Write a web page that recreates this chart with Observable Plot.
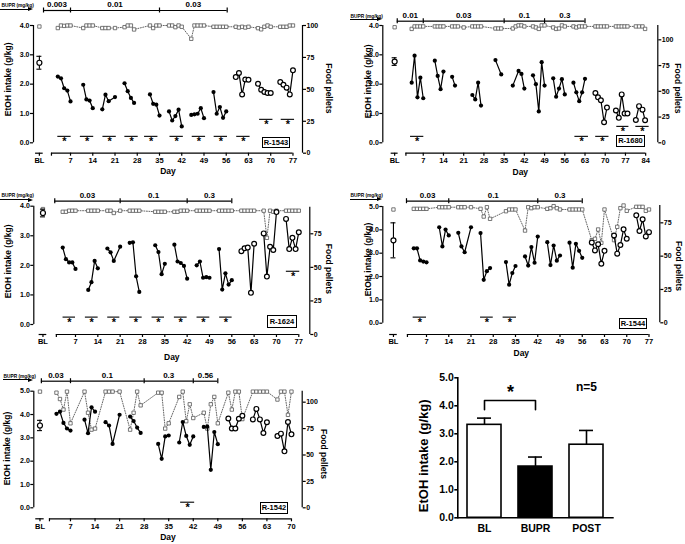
<!DOCTYPE html>
<html><head><meta charset="utf-8">
<script src="https://cdn.jsdelivr.net/npm/d3@7"></script>
<script src="https://cdn.jsdelivr.net/npm/@observablehq/plot@0.6"></script>
<style>
html,body{margin:0;padding:0;background:#fff;}
#root{position:relative;width:685px;height:544px;overflow:hidden;background:#fff;font-family:'Liberation Sans',Arial,sans-serif;}
.panel{position:absolute;}
.rlab{position:absolute;border:1px solid #000;font-weight:bold;font-size:7.5px;line-height:9px;text-align:center;box-sizing:border-box;background:#fff;}
.arrow{position:absolute;border-top:1.2px solid #000;height:0;}
.head{position:absolute;width:0;height:0;border-left:5px solid #000;border-top:2.5px solid transparent;border-bottom:2.5px solid transparent;}
</style></head><body><div id="root"></div><script>
// ---------------- DATA ----------------
// Panel R-1543
const p1Day = [3,4,5,6,7, 11,12,13,14, 17,18,19,21, 24,25,26,27, 32,33,34,35, 38,39,40,41,42, 45,46,47,48,49, 52,53,54,55,56, 59,60,61,62,63, 66,67,68,69,70, 73,74,75,76,77];
const p1Etoh = [2.26,2.20,1.86,1.78,1.41, 1.98,1.48,1.44,1.18, 1.14,1.64,1.42,1.56, 2.03,1.76,1.53,1.36, 1.65,1.33,1.30,0.93, 1.07,0.76,0.91,1.13,0.56, 0.95,0.97,0.99,1.18,0.84, 1.73,0.99,1.22,0.85,1.07, 2.24,2.38,1.65,2.16,2.15, 2.01,1.81,1.73,1.70,1.70, 2.07,1.98,1.88,1.65,2.47];
const p1Pellet = [98,100,99.7,100,100, 98,100,100,100, 98,98,98,98, 98.7,100,100,96.9, 100,98,100,100, 100,100,98.7,100,99, 89.6,100,100,100,100, 99,99,99,99,99, 99,98.4,99,98.4,99, 97.9,97,99,100,99, 99,99,99,100,100];
const p1BL = [2.73, 0.22];
const p1BLPellet = 99.2;
const p1Dose = ["0.003","0.01","0.03"];
const p1DoseDay = [-1.5, 7, 35, 56.3];
const p1Sig = [[3,7.2,0.22],[10.1,14.3,0.22],[17.2,21.4,0.22],[24.1,28.3,0.22],[30.3,34.5,0.22],[38.3,42.5,0.22],[45.3,49.5,0.22],[52.2,56.4,0.22],[59.3,63.5,0.22],[66.5,70.7,0.8],[73.3,77.5,0.8]];
const p1Ticks = [7,14,21,28,35,42,49,56,63,70,77];

// Panel R-1680
const p2Day = [3,4,5,6,7, 11,12,13,14, 17,18, 24,25,26,27, 32,34, 38,40,41,42, 45,46,47,48,49, 52,53,54,55,56, 59,60,61,62,63, 66.6,67.5,68.5,69.6,70.6, 73.7,74.7,75.7,76.7,77.7, 80.6,81.7,82.9,83.8];
const p2Etoh = [2.05,2.97,1.55,2.22,1.52, 2.80,2.28,1.83,2.43, 2.25,1.95, 1.63,1.48,2.05,1.27, 2.82,2.33, 1.95,2.45,2.35,1.85, 2.30,2.00,1.07,2.75,1.95, 2.20,1.57,1.85,2.17,1.65, 2.05,1.72,1.42,1.72,2.18, 1.70,1.55,1.45,0.70,1.20, 1.10,0.85,1.65,1.00,1.00, 0.78,1.25,1.13,0.77];
const p2PelletDay = [3,4,5,6,7, 11,12,13,14, 17,18,19,21, 24,25,26,27, 32,33,34, 38,39,40,41,42, 45,46,47,48,49, 52,53,54,55,56, 59,60,61,62,63, 66.6,67.5,68.5,69.6,70.6, 73.7,74.7,75.7,76.7,77.7, 80.6,81.7,82.9,83.8];
const p2Pellet = [110.6,113,113,113,113, 113,113,113,113, 113,113,113,112, 113,113,113,113, 111,111,111, 111,113,114,114,113, 113,112,110.6,114,114, 112,110.6,111,114,113, 113,112,113,113,113, 113,113,113,113,113, 113,113,113,113,113, 113,113,113,110.6];
const p2BL = [2.77, 0.13];
const p2BLPellet = 112.2;
const p2Dose = ["0.01","0.03","0.1","0.3"];
const p2DoseDay = [-2, 7, 35, 49, 63];
const p2Sig = [[2.6,7.2,0.22],[59.5,64.2,0.22],[66.7,71.3,0.22],[74,78.2,0.56],[80.6,85.2,0.56]];
const p2Ticks = [7,14,21,28,35,42,49,56,63,70,77,84];

// Panel R-1624
const p3Day = [3,4,5,6,7, 11,12,13,14, 17,18,19,21, 24,25,26,27, 32,33,34,35, 38,39,40,41,42, 45,46,47,48,49, 52,53,54,55,56, 59,60,61,62,63, 66,67,68,69,70, 73,74,75,76,77];
const p3Etoh = [2.60,2.21,2.10,2.10,1.88, 1.17,1.43,2.15,1.90, 2.57,2.44,2.15,2.63, 2.76,2.78,1.63,1.10, 2.68,2.45,1.70,2.05, 2.70,2.13,2.08,1.98,1.55, 2.00,2.13,1.58,1.60,1.58, 2.55,1.18,1.73,1.35,1.50, 2.48,2.58,2.60,1.07,2.73, 3.08,1.62,2.63,2.52,3.80, 3.57,2.55,2.93,2.55,3.12];
const p3Pellet = [91.4,91.4,92.2,92.2,92.2, 92.2,92.2,92.2,92.2, 92.2,92.2,90.5,92.2, 92.2,92.2,92.2,92.2, 91.4,91.4,91.4,91.4, 91.4,91.4,92.2,92.2,92.2, 92.2,92.2,92.2,92.2,92.2, 92.2,92.2,92.2,92.2,92.2, 92.2,92.2,92.2,92.2,92.2, 92.2,72,92.2,91.4,92.2, 92.2,92.2,92.2,92.2,92.2];
const p3BL = [3.77, 0.13];
const p3BLPellet = 93.4;
const p3Dose = ["0.03","0.1","0.3"];
const p3DoseDay = [0.5, 21, 42, 56];
const p3Sig = [[3.1,7,0.25],[10.1,14.1,0.25],[17.1,20.9,0.25],[24,27.9,0.25],[31,34.9,0.25],[38,42,0.25],[45.1,49.1,0.25],[52.2,56.1,0.25],[73.1,77.3,1.8]];
const p3Ticks = [7,14,21,28,35,42,49,56,63,70,77];

// Panel R-1544
const p4Day = [3,4,5,6,7, 11,12,13,14, 17,18,19,21, 24,25,26,27, 32,33,34,35, 38,39,40,41,42, 45,46,47,48,49, 52,53,54,55,56, 59,60,61,62,63, 66,67,68,69,70, 73,74,75,76,77];
const p4Etoh = [3.21,3.21,2.69,2.64,2.61, 4.11,3.29,4.01,3.76, 3.87,3.29,3.04,4.11, 3.86,1.86,2.23,2.36, 2.62,1.65,2.15,2.45, 2.86,2.47,3.26,2.59,3.71, 3.47,2.49,3.33,2.68,2.90, 3.45,2.38,3.40,3.10,2.80, 3.46,3.12,3.38,2.55,3.10, 3.76,2.98,3.35,4.02,3.62, 4.62,3.95,4.45,3.72,3.90];
const p4Pellet = [85.5,85.5,85.5,85.5,85.5, 86.7,86.7,86.7,86.7, 86.7,86.7,86.7,86.7, 85.5,79.7,86.7,78, 83.7,85,85,85, 69.2,86.7,86,86.7,86.7, 85.5,86,87.5,86,85, 85,85,85,85,85, 62,63,70,60,85, 62,72,86,88,84, 87,87,87,84,85];
const p4BL = [3.55, 0.75];
const p4BLPellet = 85;
const p4Dose = ["0.03","0.1","0.3"];
const p4DoseDay = [0.7, 14, 42, 56];
const p4Sig = [[2.8,7,0.26],[24,28,0.26],[31.1,35.3,0.26]];
const p4Ticks = [7,14,21,28,35,42,49,56,63,70,77];

// Panel R-1542
const p5Day = [3,4,5,6,7, 11,12,13,14, 17,18,19,21, 24,25,26,27, 32,33,34,35, 38,39,40,41,42, 45,46,47,48,49, 52,53,54,55,56, 59,60,61,62,63, 66,67,68,69,70];
const p5Etoh = [4.03,4.12,3.64,3.40,3.31, 3.78,3.20,4.31,4.12, 3.67,3.53,2.74,3.99, 3.91,3.72,3.44,3.21, 2.74,2.10,3.06,3.10, 2.80,3.68,3.08,2.70,3.06, 3.47,3.48,1.63,3.25,2.73, 3.83,3.40,3.40,3.82,3.95, 3.79,4.24,3.79,3.21,3.67, 3.08,3.18,2.42,3.68,3.15];
const p5Pellet = [109,103,93,110,80, 110,90,74,75, 110,110,110,110, 74,90,110,97, 109,109,75,80, 105,110,82,98,85, 90,75,98,105,80, 109,93,110,110,84, 110,110,110,110,110, 102.5,110,110,88,110];
const p5BL = [3.53, 0.22];
const p5BLPellet = 110;
const p5Dose = ["0.03","0.1","0.3","0.56"];
const p5DoseDay = [-1.3, 7, 28, 42, 49];
const p5Sig = [[38.4,42.4,0.24]];
const p5Ticks = [7,14,21,28,35,42,49,56,63,70];

// Summary bar chart
const barGroups = ["BL","BUPR","POST"];
const barMeans = [3.32, 1.83, 2.61];
const barSEM = [0.24, 0.34, 0.51];

// ---------------- DRAWING ----------------
const FONT = "'Liberation Sans', Arial, Helvetica, sans-serif";
const root = document.getElementById("root");

function plotSvg(opts, fontSize) {
  const svg = Plot.plot({...opts, style: {background: "transparent", overflow: "visible", fontFamily: FONT, fontWeight: "bold", fontSize: fontSize + "px", color: "#000"}});
  svg.style.position = "absolute"; svg.style.left = "0px"; svg.style.top = "0px"; svg.style.maxWidth = "none";
  return svg;
}

function drawPanel(L, D) {
  const div = document.createElement("div");
  div.className = "panel";
  div.style.cssText = `left:${L.left}px;top:${L.top}px;width:${L.W}px;height:${L.H}px;`;
  root.appendChild(div);
  const shared = {width: L.W, height: L.H, marginLeft: L.axL, marginRight: L.W - L.axR, marginBottom: L.H - L.axisY};
  const xOpt = {domain: L.xDom, axis: null};
  const doseEnd = D.doseDay[D.doseDay.length - 1];
  const pts = D.day.map((d, i) => ({day: d, etoh: D.etoh[i], wk: Math.floor((d - 1) / 7), post: d > doseEnd}));
  const pel = D.pelDay.map((d, i) => ({day: d, p: D.pel[i]}));
  const pTicks = [0, 25, 50, 75, 100].filter(t => t <= L.pMax);
  const doses = D.dose.map((lab, i) => ({lab, a: D.doseDay[i], b: D.doseDay[i + 1]}));

  // Food pellets layer (right axis)
  const B = plotSvg({
    ...shared, marginTop: L.pTop, insetBottom: L.axisY - L.p0,
    x: xOpt, y: {domain: [0, L.pMax], axis: null},
    marks: [
      Plot.ruleX([L.xDom[1]], {x: d => d, y1: 0, y2: L.pMax, strokeWidth: 1.2}),
      Plot.axisY({anchor: "right", ticks: pTicks, tickFormat: d => String(d), tickSize: 3, tickPadding: 1, label: null, strokeWidth: 1.2}),
      Plot.line(pel, {x: "day", y: "p", stroke: "#555", strokeWidth: 0.9, strokeDasharray: "1,1.5"}),
      Plot.dot(pel, {x: "day", y: "p", symbol: "square", r: 1.9, fill: "white", stroke: "#555", strokeWidth: 0.8}),
      Plot.dot([D.blPel], {x: L.blX, y: d => d, symbol: "square", r: 1.9, fill: "white", stroke: "#555", strokeWidth: 0.8}),
      Plot.text(["Food pellets"], {text: d => d, frameAnchor: "right", textAnchor: "middle", rotate: 90, dx: L.pDx, dy: L.pDy, fontSize: 8.5})
    ]
  }, 7);
  div.appendChild(B);

  // EtOH layer (left axis)
  const bl = D.bl;
  const A = plotSvg({
    ...shared, marginTop: L.etTop, insetBottom: L.axisY - L.et0,
    x: xOpt, y: {domain: [0, L.etMax], axis: null},
    marks: [
      Plot.ruleX([L.xDom[0]], {x: d => d, y1: 0, y2: L.etMax, strokeWidth: 1.2}),
      Plot.axisY({ticks: d3.range(0, L.etMax + 0.01, 1), tickFormat: ".1f", tickSize: 3, tickPadding: 1, label: null, strokeWidth: 1.2}),
      Plot.line(pts, {x: "day", y: "etoh", z: "wk", stroke: "black", strokeWidth: 1.2}),
      Plot.dot(pts.filter(d => !d.post), {x: "day", y: "etoh", r: 2.1, fill: "black"}),
      Plot.dot(pts.filter(d => d.post), {x: "day", y: "etoh", r: 2.4, fill: "white", stroke: "black", strokeWidth: 1.2}),
      Plot.ruleX([bl], {x: L.blX, y1: d => d[0] - d[1], y2: d => d[0] + d[1], strokeWidth: 1.1}),
      Plot.ruleY([bl[0] - bl[1], bl[0] + bl[1]], {x1: L.blX, x2: L.blX, y: d => d, insetLeft: -2.5, insetRight: -2.5, strokeWidth: 1.1}),
      Plot.dot([bl], {x: L.blX, y: d => d[0], r: 2.5, fill: "white", stroke: "black", strokeWidth: 1.2}),
      Plot.ruleY(D.sig, {x1: d => d[0], x2: d => d[1], y: d => d[2], strokeWidth: 1.1}),
      Plot.text(D.sig, {x: d => (d[0] + d[1]) / 2, y: d => d[2], text: () => "*", lineAnchor: "top", dy: 1, fontSize: 11}),
      Plot.text(["EtOH intake (g/kg)"], {text: d => d, frameAnchor: "left", textAnchor: "middle", rotate: -90, dx: L.eDx, dy: L.eDy, fontSize: 8.5})
    ]
  }, 7);
  div.appendChild(A);

  // Axis / dose header layer
  const C = plotSvg({
    ...shared, marginTop: L.bracketY,
    x: xOpt, y: {domain: [0, 1], axis: null},
    marks: [
      Plot.ruleY([[L.blX - 1.2, L.blX + 1.2], [L.axStart, L.axEnd]], {x1: d => d[0], x2: d => d[1], y: 0, strokeWidth: 1.2}),
      Plot.axisX({ticks: [L.blX, L.axStart, ...D.ticks], tickFormat: d => d === L.blX ? "BL" : (d === L.axStart ? "" : String(d)), tickSize: 3, tickPadding: 1.5, label: null, strokeWidth: 1.2}),
      Plot.text(["Day"], {text: d => d, frameAnchor: "bottom", dy: L.dayDy, fontSize: 8.5}),
      Plot.ruleY(doses, {x1: "a", x2: "b", y: 1, strokeWidth: 1.2}),
      Plot.ruleX(D.doseDay, {x: d => d, y1: 1, y2: 1, insetTop: -2.5, insetBottom: -2.5, strokeWidth: 1.2}),
      Plot.text(doses, {x: d => (d.a + d.b) / 2, y: 1, text: "lab", dy: -6, fontSize: 8}),
      Plot.text(["BUPR (mg/kg)"], {text: d => d, frameAnchor: "top-left", textAnchor: "start", dx: L.bTxt[0], dy: L.bTxt[1], fontSize: 4.8})
    ]
  }, 7.5);
  div.appendChild(C);

  const ar = document.createElement("div");
  ar.className = "arrow";
  ar.style.cssText = `left:${L.arrow.x1}px;top:${L.arrow.y - 0.6}px;width:${L.arrow.x2 - L.arrow.x1 - 4}px;`;
  div.appendChild(ar);
  const hd = document.createElement("div");
  hd.className = "head";
  hd.style.cssText = `left:${L.arrow.x2 - 5}px;top:${L.arrow.y - 2.5}px;`;
  div.appendChild(hd);

  const rb = document.createElement("div");
  rb.className = "rlab";
  rb.textContent = D.name;
  rb.style.cssText = `left:${L.rbox.x}px;top:${L.rbox.y}px;width:${L.rbox.w}px;height:${L.rbox.h}px;line-height:${L.rbox.h - 2}px;`;
  div.appendChild(rb);
}

const layouts = [
  {left:0, top:0, W:340, H:180, axL:33, axR:302, xDom:[-4.65,80], etMax:4, etTop:25, et0:142.3, pMax:100, pTop:25, p0:152.7, axisY:152.7, bracketY:10, blX:-2.8, axStart:1, axEnd:77, dayDy:20.5, eDx:-25.7, eDy:-10, pDx:26, pDy:-1, bTxt:[-32,-7], arrow:{x1:0,x2:33,y:9.3}, rbox:{x:262,y:137,w:28,h:11}},
  {left:340, top:0, W:345, H:180, axL:42.3, axR:317.3, xDom:[-7,88.2], etMax:4, etTop:25, et0:142.3, pMax:113.9, pTop:25, p0:142.3, axisY:152.7, bracketY:20.7, blX:-2.9, axStart:1, axEnd:84, dayDy:22, eDx:-14.5, eDy:-8, pDx:19.5, pDy:-1, bTxt:[-32.3,-6.7], arrow:{x1:10,x2:42,y:19.7}, rbox:{x:276,y:135,w:29,h:12}},
  {left:0, top:180, W:340, H:180, axL:33.3, axR:309.3, xDom:[-6.07,80.45], etMax:4, etTop:25.7, et0:144, pMax:94.8, pTop:26.7, p0:154, axisY:154, bracketY:20.7, blX:-3.2, axStart:1, axEnd:77, dayDy:25, eDx:-26, eDy:-9, pDx:19, pDy:-2, bTxt:[-32.3,-7.4], arrow:{x1:0,x2:33,y:20}, rbox:{x:267,y:135,w:30,h:13}},
  {left:340, top:180, W:345, H:180, axL:42.3, axR:319.3, xDom:[-6.75,80.4], etMax:5, etTop:26, et0:142.7, pMax:88, pTop:25, p0:142.3, axisY:154, bracketY:20.7, blX:-3.4, axStart:1, axEnd:77, dayDy:21, eDx:-14.5, eDy:-11, pDx:19, pDy:-4, bTxt:[-32.3,-7.4], arrow:{x1:10,x2:42,y:19.3}, rbox:{x:279,y:138,w:28,h:11}},
  {left:0, top:360, W:340, H:184, axL:33.3, axR:301.7, xDom:[-3.46,73.06], etMax:5, etTop:30.7, et0:147.3, pMax:110.4, pTop:30.7, p0:147.3, axisY:158.3, bracketY:20.7, blX:-1.7, axStart:1, axEnd:70, dayDy:21, eDx:-26.6, eDy:-6.5, pDx:21.6, pDy:-1, bTxt:[-30.3,-6.7], arrow:{x1:3,x2:33,y:20}, rbox:{x:260,y:142,w:28,h:12}}
];

const panels = [
  {name:"R-1543", day:p1Day, etoh:p1Etoh, pelDay:p1Day, pel:p1Pellet, bl:p1BL, blPel:p1BLPellet, dose:p1Dose, doseDay:p1DoseDay, sig:p1Sig, ticks:p1Ticks},
  {name:"R-1680", day:p2Day, etoh:p2Etoh, pelDay:p2PelletDay, pel:p2Pellet, bl:p2BL, blPel:p2BLPellet, dose:p2Dose, doseDay:p2DoseDay, sig:p2Sig, ticks:p2Ticks},
  {name:"R-1624", day:p3Day, etoh:p3Etoh, pelDay:p3Day, pel:p3Pellet, bl:p3BL, blPel:p3BLPellet, dose:p3Dose, doseDay:p3DoseDay, sig:p3Sig, ticks:p3Ticks},
  {name:"R-1544", day:p4Day, etoh:p4Etoh, pelDay:p4Day, pel:p4Pellet, bl:p4BL, blPel:p4BLPellet, dose:p4Dose, doseDay:p4DoseDay, sig:p4Sig, ticks:p4Ticks},
  {name:"R-1542", day:p5Day, etoh:p5Etoh, pelDay:p5Day, pel:p5Pellet, bl:p5BL, blPel:p5BLPellet, dose:p5Dose, doseDay:p5DoseDay, sig:p5Sig, ticks:p5Ticks}
];
layouts.forEach((L, i) => drawPanel(L, panels[i]));

// Summary bar chart
(function () {
  const div = document.createElement("div");
  div.className = "panel";
  div.style.cssText = "left:380px;top:360px;width:305px;height:184px;";
  root.appendChild(div);
  const bars = barGroups.map((g, i) => ({g, m: barMeans[i], s: barSEM[i]}));
  const bracket = [{g: "BL", v: 3.86}, {g: "BL", v: 4.19}, {g: "BUPR", v: 4.19}, {g: "BUPR", v: 3.86}];
  const svg = plotSvg({
    width: 305, height: 184, marginLeft: 77.3, marginRight: 71.3, marginTop: 17.3, marginBottom: 26.7,
    x: {domain: barGroups, paddingInner: 0.333, paddingOuter: 0.173, axis: null},
    y: {domain: [0, 5], axis: null},
    marks: [
      Plot.ruleX(bars, {x: "g", y1: "m", y2: d => d.m + d.s, strokeWidth: 1.6}),
      Plot.tickY(bars, {x: "g", y: d => d.m + d.s, insetLeft: 10, insetRight: 10, strokeWidth: 1.6}),
      Plot.barY(bars.filter(d => d.g !== "BUPR"), {x: "g", y: "m", fill: "white", stroke: "black", strokeWidth: 1.6}),
      Plot.barY(bars.filter(d => d.g === "BUPR"), {x: "g", y: "m", fill: "black", stroke: "black", strokeWidth: 1.6}),
      Plot.frame({anchor: "left", strokeWidth: 1.6}),
      Plot.ruleY([0], {strokeWidth: 1.6}),
      Plot.axisY({ticks: [0, 1, 2, 3, 4, 5], tickFormat: ".1f", tickSize: 3, tickPadding: 1, label: null, strokeWidth: 1.6}),
      Plot.axisX({tickSize: 0, tickPadding: 7, label: null}),
      Plot.line(bracket, {x: "g", y: "v", strokeWidth: 1.6}),
      Plot.text(["*"], {text: d => d, x: () => "BL", y: 4.49, dx: 26, fontSize: 18}),
      Plot.text(["n=5"], {text: d => d, x: () => "POST", y: 4.66, fontSize: 12}),
      Plot.text(["EtOH intake (g/kg)"], {text: d => d, frameAnchor: "left", textAnchor: "middle", rotate: -90, dx: -34.3, dy: 8, fontSize: 13})
    ]
  }, 10.5);
  div.appendChild(svg);
})();
</script></body></html>
